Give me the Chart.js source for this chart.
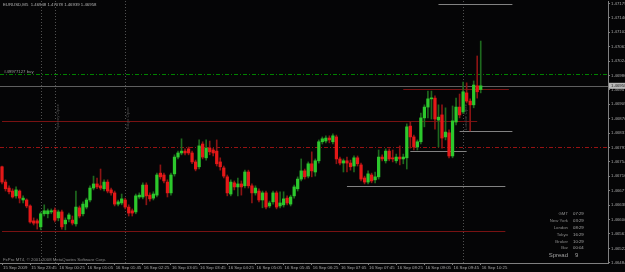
<!DOCTYPE html>
<html>
<head>
<meta charset="utf-8">
<script src="https://cdn.jsdelivr.net/npm/chart.js@4.4.1/dist/chart.umd.min.js"></script>
<style>
html, body { margin: 0; padding: 0; background: #050506; }
canvas { display: block; }
</style>
</head>
<body>
<canvas id="chart" width="625" height="272"></canvas>
<script>
// EURUSD M5, bars from 15 Sep 23:05 to 16 Sep 10:25 (broker time)
const title = "EURUSD,M5  1.46948 1.47078 1.46939 1.46958";
const copyright = "FxPro MT4, \u00A9 2001-2008 MetaQuotes Software Corp.";

const open = [
  1.46741, 1.46700, 1.46684, 1.46676, 1.46663, 1.46676, 1.46652, 1.46652, 1.46636, 1.46596,
  1.46596, 1.46580, 1.46615, 1.46615, 1.46620, 1.46625, 1.46604, 1.46620, 1.46588, 1.46601,
  1.46598, 1.46588, 1.46631, 1.46615, 1.46633, 1.46652, 1.46684, 1.46695, 1.46690, 1.46682,
  1.46700, 1.46679, 1.46671, 1.46641, 1.46644, 1.46652, 1.46633, 1.46623, 1.46620, 1.46660,
  1.46660, 1.46692, 1.46665, 1.46657, 1.46665, 1.46724, 1.46719, 1.46700, 1.46671, 1.46722,
  1.46767, 1.46778, 1.46783, 1.46789, 1.46778, 1.46754, 1.46741, 1.46802, 1.46765, 1.46791,
  1.46786, 1.46783, 1.46754, 1.46738, 1.46714, 1.46668, 1.46698, 1.46687, 1.46695, 1.46690,
  1.46727, 1.46690, 1.46671, 1.46676, 1.46652, 1.46671, 1.46636, 1.46647, 1.46671, 1.46636,
  1.46639, 1.46657, 1.46641, 1.46663, 1.46682, 1.46708, 1.46730, 1.46716, 1.46749, 1.46727,
  1.46757, 1.46808, 1.46810, 1.46818, 1.46808, 1.46821, 1.46762, 1.46751, 1.46757, 1.46751,
  1.46743, 1.46765, 1.46746, 1.46711, 1.46700, 1.46719, 1.46706, 1.46714, 1.46767, 1.46757,
  1.46783, 1.46765, 1.46757, 1.46767, 1.46762, 1.46765, 1.46850, 1.46821, 1.46794, 1.46808,
  1.46872, 1.46901, 1.46923, 1.46925, 1.46866, 1.46880, 1.46821, 1.46832, 1.46770, 1.46861,
  1.46901, 1.46888, 1.46939, 1.46917, 1.46907, 1.46958, 1.46948
];
const high = [
  1.46743, 1.46706, 1.46690, 1.46682, 1.46687, 1.46679, 1.46663, 1.46655, 1.46639, 1.46604,
  1.46601, 1.46620, 1.46639, 1.46628, 1.46628, 1.46631, 1.46625, 1.46625, 1.46604, 1.46617,
  1.46609, 1.46676, 1.46636, 1.46647, 1.46657, 1.46690, 1.46716, 1.46711, 1.46735, 1.46706,
  1.46706, 1.46684, 1.46676, 1.46652, 1.46668, 1.46657, 1.46639, 1.46628, 1.46668, 1.46671,
  1.46698, 1.46698, 1.46671, 1.46674, 1.46724, 1.46746, 1.46724, 1.46706, 1.46724, 1.46773,
  1.46783, 1.46816, 1.46789, 1.46794, 1.46783, 1.46759, 1.46813, 1.46808, 1.46813, 1.46810,
  1.46791, 1.46813, 1.46765, 1.46743, 1.46719, 1.46706, 1.46703, 1.46711, 1.46703, 1.46732,
  1.46732, 1.46695, 1.46690, 1.46682, 1.46676, 1.46676, 1.46649, 1.46676, 1.46676, 1.46674,
  1.46674, 1.46663, 1.46665, 1.46692, 1.46714, 1.46762, 1.46735, 1.46754, 1.46781, 1.46762,
  1.46813, 1.46821, 1.46824, 1.46824, 1.46829, 1.46826, 1.46767, 1.46762, 1.46767, 1.46759,
  1.46770, 1.46770, 1.46751, 1.46716, 1.46730, 1.46724, 1.46727, 1.46786, 1.46773, 1.46789,
  1.46789, 1.46786, 1.46775, 1.46797, 1.46775, 1.46856, 1.46861, 1.46826, 1.46813, 1.46885,
  1.46907, 1.46944, 1.46944, 1.46931, 1.46907, 1.46907, 1.46899, 1.46840, 1.46904, 1.46925,
  1.46936, 1.46968, 1.46966, 1.46923, 1.46971, 1.47038, 1.47078
];
const low = [
  1.46695, 1.46676, 1.46668, 1.46657, 1.46657, 1.46644, 1.46644, 1.46631, 1.46590, 1.46585,
  1.46574, 1.46572, 1.46609, 1.46604, 1.46615, 1.46593, 1.46596, 1.46574, 1.46572, 1.46593,
  1.46585, 1.46582, 1.46604, 1.46609, 1.46628, 1.46647, 1.46679, 1.46682, 1.46679, 1.46676,
  1.46671, 1.46665, 1.46636, 1.46636, 1.46639, 1.46628, 1.46609, 1.46609, 1.46615, 1.46655,
  1.46655, 1.46639, 1.46649, 1.46652, 1.46660, 1.46708, 1.46698, 1.46660, 1.46665, 1.46716,
  1.46762, 1.46773, 1.46773, 1.46773, 1.46749, 1.46730, 1.46735, 1.46762, 1.46759, 1.46773,
  1.46770, 1.46743, 1.46732, 1.46711, 1.46663, 1.46663, 1.46679, 1.46663, 1.46665, 1.46684,
  1.46684, 1.46644, 1.46665, 1.46647, 1.46631, 1.46628, 1.46631, 1.46641, 1.46628, 1.46631,
  1.46633, 1.46639, 1.46636, 1.46657, 1.46676, 1.46703, 1.46708, 1.46711, 1.46714, 1.46716,
  1.46751, 1.46802, 1.46805, 1.46805, 1.46802, 1.46749, 1.46746, 1.46727, 1.46727, 1.46732,
  1.46727, 1.46743, 1.46703, 1.46695, 1.46695, 1.46698, 1.46698, 1.46708, 1.46757, 1.46751,
  1.46757, 1.46754, 1.46751, 1.46746, 1.46749, 1.46735, 1.46791, 1.46786, 1.46786, 1.46802,
  1.46848, 1.46872, 1.46869, 1.46842, 1.46794, 1.46791, 1.46813, 1.46765, 1.46765, 1.46853,
  1.46872, 1.46883, 1.46912, 1.46837, 1.46899, 1.46925, 1.46939
];
const close = [
  1.46700, 1.46682, 1.46674, 1.46660, 1.46679, 1.46657, 1.46657, 1.46636, 1.46593, 1.46590,
  1.46590, 1.46615, 1.46623, 1.46623, 1.46623, 1.46598, 1.46620, 1.46580, 1.46598, 1.46612,
  1.46590, 1.46633, 1.46609, 1.46641, 1.46652, 1.46684, 1.46695, 1.46687, 1.46684, 1.46700,
  1.46676, 1.46671, 1.46641, 1.46647, 1.46655, 1.46633, 1.46617, 1.46617, 1.46663, 1.46665,
  1.46692, 1.46663, 1.46655, 1.46668, 1.46719, 1.46714, 1.46703, 1.46671, 1.46719, 1.46767,
  1.46778, 1.46783, 1.46778, 1.46778, 1.46754, 1.46735, 1.46797, 1.46767, 1.46791, 1.46781,
  1.46778, 1.46749, 1.46741, 1.46716, 1.46671, 1.46700, 1.46687, 1.46695, 1.46687, 1.46727,
  1.46690, 1.46671, 1.46684, 1.46652, 1.46671, 1.46633, 1.46644, 1.46671, 1.46633, 1.46644,
  1.46655, 1.46644, 1.46660, 1.46687, 1.46708, 1.46730, 1.46714, 1.46749, 1.46730, 1.46757,
  1.46808, 1.46816, 1.46818, 1.46813, 1.46824, 1.46762, 1.46751, 1.46757, 1.46751, 1.46741,
  1.46765, 1.46749, 1.46708, 1.46700, 1.46722, 1.46703, 1.46714, 1.46767, 1.46762, 1.46783,
  1.46762, 1.46762, 1.46767, 1.46762, 1.46767, 1.46848, 1.46821, 1.46794, 1.46808, 1.46872,
  1.46901, 1.46923, 1.46925, 1.46869, 1.46874, 1.46818, 1.46834, 1.46770, 1.46864, 1.46901,
  1.46880, 1.46942, 1.46917, 1.46907, 1.46960, 1.46942, 1.46958
];

// time axis labels, one every 8 bars
const timeLabels = [
  "15 Sep 2009", "15 Sep 23:45", "16 Sep 00:25", "16 Sep 01:05", "16 Sep 01:45", "16 Sep 02:25",
  "16 Sep 03:05", "16 Sep 03:45", "16 Sep 04:25", "16 Sep 05:05", "16 Sep 05:45", "16 Sep 06:25",
  "16 Sep 07:05", "16 Sep 07:45", "16 Sep 08:25", "16 Sep 09:05", "16 Sep 09:45", "16 Sep 10:25"
];
const priceTicks = [
  1.47179, 1.47140, 1.47102, 1.47063, 1.47024, 1.46986, 1.46947, 1.46909, 1.46870, 1.46831,
  1.46793, 1.46754, 1.46716, 1.46677, 1.46638, 1.46600, 1.46561, 1.46522, 1.46484
];

// trade and drawn objects
const orderPrice = 1.46990;
const orderLabel = "#49977127 buy";
const stopPrice = 1.46795;
const redLevels = [1.46864, 1.46569, 1.46950];
const redFrom = [0, 0, 114];
const redTo = [135, 143, 144];
const greyLevels = [1.46837, 1.46783, 1.46690, 1.47177];
const greyFrom = [130, 116, 98, 124];
const greyTo = [145, 132, 143, 145];

const daySeparator = 11;
const sessionBars = [15, 35, 131];
const sessionNames = ["Sydney Open", "Tokyo Open", "London Open"];

const clockNames = ["GMT", "New York", "London", "Tokyo", "Broker", "Bar"];
const clockTimes = ["07:29", "03:29", "08:29", "16:29", "10:29", "00:04"];
const spread = 9;

const BULL = "rgb(44,200,44)";
const BEAR = "rgb(228,24,24)";
const BULL_WICK = "rgb(30,105,30)";
const BEAR_WICK = "rgb(140,20,20)";
const FONT = "'Liberation Sans', Arial, sans-serif";

const idx = open.map((_, i) => i);
const wickData = idx.map(i => ({ x: i, y: [low[i], high[i]] }));
const bodyData = idx.map(i => ({ x: i, y: [open[i], close[i]] }));
const isBull = i => close[i] >= open[i];

function hline(ctx, x1, x2, y) {
  ctx.beginPath();
  ctx.moveTo(x1, y);
  ctx.lineTo(x2, y);
  ctx.stroke();
}

const mt4Objects = {
  id: "mt4Objects",
  beforeDraw(chart) {
    const ctx = chart.ctx;
    ctx.save();
    ctx.fillStyle = "#050506";
    ctx.fillRect(0, 0, chart.width, chart.height);
    ctx.restore();
  },
  beforeDatasetsDraw(chart) {
    const { ctx, chartArea: a, scales: { x, y } } = chart;
    const yy = p => Math.round(y.getPixelForValue(p)) + 0.5;
    ctx.save();
    ctx.lineWidth = 1;

    // period separator and session lines
    ctx.strokeStyle = "#505050";
    ctx.setLineDash([1, 2]);
    [daySeparator, ...sessionBars].forEach(i => {
      const px = Math.round(x.getPixelForValue(i)) + 0.5;
      ctx.beginPath();
      ctx.moveTo(px, a.top);
      ctx.lineTo(px, a.bottom);
      ctx.stroke();
    });

    // order and stop lines
    ctx.setLineDash([4, 2, 1, 2]);
    ctx.strokeStyle = "rgb(0,130,0)";
    hline(ctx, a.left, a.right, yy(orderPrice));
    ctx.strokeStyle = "rgb(150,18,18)";
    hline(ctx, a.left, a.right, yy(stopPrice));
    ctx.setLineDash([]);

    // bid line
    ctx.strokeStyle = "rgb(95,95,95)";
    hline(ctx, a.left, a.right, yy(close[close.length - 1]));

    ctx.strokeStyle = "rgb(120,18,18)";
    redLevels.forEach((p, k) => {
      hline(ctx, Math.max(a.left, x.getPixelForValue(redFrom[k])), x.getPixelForValue(redTo[k]), yy(p));
    });
    ctx.strokeStyle = "rgb(130,130,130)";
    greyLevels.forEach((p, k) => {
      hline(ctx, x.getPixelForValue(greyFrom[k]), x.getPixelForValue(greyTo[k]), yy(p));
    });
    ctx.restore();
  },
  afterDraw(chart) {
    const { ctx, chartArea: a, scales: { x, y } } = chart;
    ctx.save();
    ctx.textBaseline = "middle";

    ctx.font = "4.3px " + FONT;
    ctx.fillStyle = "#b4b4b4";
    ctx.textAlign = "left";
    ctx.fillText(title, 3, 5);

    ctx.fillStyle = "#8c8c8c";
    ctx.fillText(copyright, 3, 260);

    ctx.fillStyle = "#9a9a9a";
    ctx.fillText(orderLabel, 4, y.getPixelForValue(orderPrice) - 2.5);

    // session names, vertical
    ctx.fillStyle = "#4c4c4c";
    sessionBars.forEach((i, k) => {
      const px = x.getPixelForValue(i) + 3;
      ctx.save();
      ctx.translate(px, 130);
      ctx.rotate(-Math.PI / 2);
      ctx.textAlign = "left";
      ctx.fillText(sessionNames[k], 0, 0);
      ctx.restore();
    });

    // clock panel
    clockNames.forEach((n, k) => {
      const ty = 214.3 + k * 6.8;
      ctx.textAlign = "right";
      ctx.fillStyle = "#8c8c8c";
      ctx.fillText(n, 568, ty);
      ctx.textAlign = "left";
      ctx.fillStyle = "#a8a8a8";
      ctx.fillText(clockTimes[k], 573, ty);
    });
    ctx.font = "6px " + FONT;
    ctx.textAlign = "right";
    ctx.fillStyle = "#a0a0a0";
    ctx.fillText("Spread", 568, 255.5);
    ctx.textAlign = "left";
    ctx.fillText(String(spread), 575, 255.5);

    // current bid label on price axis
    const last = close[close.length - 1];
    const py = y.getPixelForValue(last);
    ctx.fillStyle = "#b8b8b8";
    ctx.fillRect(a.right + 1, py - 3, chart.width - a.right - 1, 6);
    ctx.font = "4.3px " + FONT;
    ctx.fillStyle = "#202020";
    ctx.fillText(last.toFixed(5), a.right + 3, py);
    ctx.restore();
  }
};

const chart = new Chart(document.getElementById("chart"), {
  type: "bar",
  data: {
    datasets: [
      {
        label: "wick",
        data: wickData,
        backgroundColor: ctx => isBull(ctx.dataIndex) ? BULL_WICK : BEAR_WICK,
        barThickness: 1,
        grouped: false,
        order: 2
      },
      {
        label: "body",
        data: bodyData,
        backgroundColor: ctx => isBull(ctx.dataIndex) ? BULL : BEAR,
        barThickness: 2.6,
        minBarLength: 1,
        grouped: false,
        order: 1
      }
    ]
  },
  options: {
    responsive: false,
    animation: false,
    devicePixelRatio: 1,
    layout: { padding: { top: 1, left: 0, right: 0, bottom: 0 } },
    plugins: { legend: { display: false }, tooltip: { enabled: false } },
    scales: {
      x: {
        type: "linear",
        offset: false,
        min: -0.57,
        max: 172.16,
        grid: { display: true, offset: false, drawOnChartArea: false, tickLength: 2, color: "#808080" },
        border: { display: true, color: "#808080" },
        afterBuildTicks: s => { s.ticks = timeLabels.map((_, k) => ({ value: k * 8 })); },
        afterFit: s => { s.height = 9; s.paddingLeft = 0; s.paddingRight = 0; },
        ticks: {
          autoSkip: false,
          maxRotation: 0,
          align: "start",
          padding: 0,
          labelOffset: 1,
          color: "#a8a8a8",
          font: { family: FONT, size: 4.3 },
          callback: (v, k) => timeLabels[k]
        }
      },
      y: {
        position: "right",
        min: 1.464831,
        max: 1.471853,
        grid: { display: true, drawOnChartArea: false, tickLength: 2, color: "#808080" },
        border: { display: true, color: "#808080" },
        afterBuildTicks: s => { s.ticks = priceTicks.map(v => ({ value: v })); },
        afterFit: s => { s.width = 17; s.paddingTop = 0; s.paddingBottom = 0; },
        ticks: {
          padding: 1,
          color: "#a8a8a8",
          font: { family: FONT, size: 4.3 },
          callback: v => v.toFixed(5)
        }
      }
    }
  },
  plugins: [mt4Objects]
});
</script>
</body>
</html>
